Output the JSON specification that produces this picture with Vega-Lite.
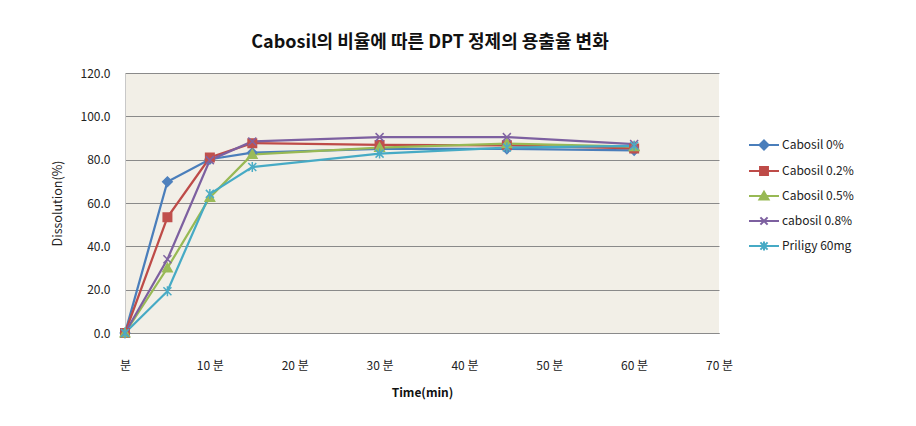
{
  "$schema": "https://vega.github.io/schema/vega-lite/v6.json",
  "width": 594,
  "height": 260,
  "autosize": {"type": "none"},
  "padding": {"left": 125, "top": 73, "right": 197, "bottom": 93},
  "background": "white",
  "config": {
    "font": "Noto Sans CJK KR",
    "view": {"fill": "#F2EFE7", "stroke": null}
  },
  "title": {
    "text": "Cabosil의 비율에 따른 DPT 정제의 용출율 변화",
    "fontSize": 18,
    "fontWeight": "bold",
    "color": "#111111",
    "font": "Noto Sans CJK KR",
    "anchor": "middle",
    "dx": 8,
    "offset": 15
  },
  "data": {
    "values": [
      {"t": 0, "series": "Cabosil 0%", "v": 0.0},
      {"t": 5, "series": "Cabosil 0%", "v": 69.8},
      {"t": 10, "series": "Cabosil 0%", "v": 80.2},
      {"t": 15, "series": "Cabosil 0%", "v": 83.2},
      {"t": 30, "series": "Cabosil 0%", "v": 85.0},
      {"t": 45, "series": "Cabosil 0%", "v": 85.0},
      {"t": 60, "series": "Cabosil 0%", "v": 84.3},
      {"t": 0, "series": "Cabosil 0.2%", "v": 0.0},
      {"t": 5, "series": "Cabosil 0.2%", "v": 53.4},
      {"t": 10, "series": "Cabosil 0.2%", "v": 81.0},
      {"t": 15, "series": "Cabosil 0.2%", "v": 87.6},
      {"t": 30, "series": "Cabosil 0.2%", "v": 86.8},
      {"t": 45, "series": "Cabosil 0.2%", "v": 86.6},
      {"t": 60, "series": "Cabosil 0.2%", "v": 85.2},
      {"t": 0, "series": "Cabosil 0.5%", "v": 0.0},
      {"t": 5, "series": "Cabosil 0.5%", "v": 30.0},
      {"t": 10, "series": "Cabosil 0.5%", "v": 62.6},
      {"t": 15, "series": "Cabosil 0.5%", "v": 82.4},
      {"t": 30, "series": "Cabosil 0.5%", "v": 85.6},
      {"t": 45, "series": "Cabosil 0.5%", "v": 87.4},
      {"t": 60, "series": "Cabosil 0.5%", "v": 86.0},
      {"t": 0, "series": "cabosil 0.8%", "v": 0.0},
      {"t": 5, "series": "cabosil 0.8%", "v": 34.0},
      {"t": 10, "series": "cabosil 0.8%", "v": 79.8},
      {"t": 15, "series": "cabosil 0.8%", "v": 88.4},
      {"t": 30, "series": "cabosil 0.8%", "v": 90.4},
      {"t": 45, "series": "cabosil 0.8%", "v": 90.4},
      {"t": 60, "series": "cabosil 0.8%", "v": 87.2},
      {"t": 0, "series": "Priligy 60mg", "v": 0.0},
      {"t": 5, "series": "Priligy 60mg", "v": 19.3},
      {"t": 10, "series": "Priligy 60mg", "v": 64.2},
      {"t": 15, "series": "Priligy 60mg", "v": 76.6},
      {"t": 30, "series": "Priligy 60mg", "v": 82.8},
      {"t": 45, "series": "Priligy 60mg", "v": 85.6},
      {"t": 60, "series": "Priligy 60mg", "v": 86.4}
    ]
  },
  "encoding": {
    "x": {
      "field": "t",
      "type": "quantitative",
      "scale": {"domain": [0, 70], "nice": false},
      "axis": {
        "title": "Time(min)",
        "values": [0, 10, 20, 30, 40, 50, 60, 70],
        "labelExpr": "datum.value == 0 ? '분' : datum.value + ' 분'",
        "labelFontSize": 12,
        "labelColor": "#222222",
        "labelPadding": 27,
        "ticks": false,
        "grid": false,
        "domainColor": "#8A8A8A",
        "domainWidth": 1.2,
        "titleFontSize": 12,
        "titleFontWeight": "bold",
        "titleColor": "#111111",
        "titlePadding": 16,
        "labelFlush": false
      }
    },
    "y": {
      "field": "v",
      "type": "quantitative",
      "scale": {"domain": [0, 120], "nice": false},
      "axis": {
        "title": "Dissolution(%)",
        "values": [0, 20, 40, 60, 80, 100, 120],
        "format": ".1f",
        "labelFontSize": 12,
        "labelColor": "#222222",
        "labelPadding": 15,
        "ticks": false,
        "grid": true,
        "gridColor": "#8A8A8A",
        "gridWidth": 1.2,
        "domainColor": "#C8C8C8",
        "titleFontSize": 12.5,
        "titleFontWeight": "normal",
        "titleColor": "#222222",
        "titlePadding": 16
      }
    }
  },
  "layer": [
    {
      "mark": {"type": "line", "strokeWidth": 2.25},
      "encoding": {
        "color": {
          "field": "series",
          "type": "nominal",
          "sort": ["Cabosil 0%", "Cabosil 0.2%", "Cabosil 0.5%", "cabosil 0.8%", "Priligy 60mg"],
          "scale": {
            "domain": ["Cabosil 0%", "Cabosil 0.2%", "Cabosil 0.5%", "cabosil 0.8%", "Priligy 60mg"],
            "range": ["#4A7EBB", "#BE4B48", "#98B954", "#7D60A0", "#46AAC5"]
          },
          "legend": {
            "title": null,
            "orient": "none",
            "legendX": 626,
            "legendY": 59,
            "padding": 0,
            "rowPadding": 4,
            "symbolSize": 576,
            "symbolType": "M-1.25,0L1.25,0",
            "labelOffset": 5,
            "labelFontSize": 12,
            "labelColor": "#222222",
            "encode": {
              "symbols": {
                "update": {
                  "shape": {"signal": "datum.value == 'Cabosil 0%' ? 'M-1.25,0L1.25,0M0,-0.38L0.38,0L0,0.38L-0.38,0Z' : datum.value == 'Cabosil 0.2%' ? 'M-1.25,0L1.25,0M-0.33,-0.33L0.33,-0.33L0.33,0.33L-0.33,0.33Z' : datum.value == 'Cabosil 0.5%' ? 'M-1.25,0L1.25,0M0,-0.36L0.38,0.3L-0.38,0.3Z' : datum.value == 'cabosil 0.8%' ? 'M-1.25,0L1.25,0M-0.3,-0.3L0.3,0.3M-0.3,0.3L0.3,-0.3' : 'M-1.25,0L1.25,0M-0.3,-0.3L0.3,0.3M-0.3,0.3L0.3,-0.3M0,-0.38L0,0.38'"},
                  "fill": {"signal": "scale('color', datum.value)"},
                  "stroke": {"signal": "scale('color', datum.value)"},
                  "strokeWidth": {"value": 2},
                  "size": {"value": 576},
                  "opacity": {"value": 1},
                  "fillOpacity": {"value": 1}
                }
              }
            }
          }
        }
      }
    },
    {
      "transform": [{"filter": "datum.series == 'Cabosil 0%'"}],
      "mark": {"type": "point", "shape": "M0,-1L1,0L0,1L-1,0Z", "filled": true, "fill": "#4F81BD", "stroke": "#4F81BD", "strokeWidth": 1.5, "size": 90, "opacity": 1}
    },
    {
      "transform": [{"filter": "datum.series == 'Cabosil 0.2%'"}],
      "mark": {"type": "point", "shape": "M-0.85,-0.85L0.85,-0.85L0.85,0.85L-0.85,0.85Z", "filled": true, "fill": "#C0504D", "stroke": "#C0504D", "strokeWidth": 1.5, "size": 100, "opacity": 1}
    },
    {
      "transform": [{"filter": "datum.series == 'Cabosil 0.5%'"}],
      "mark": {"type": "point", "shape": "M0,-1L1,0.8L-1,0.8Z", "filled": true, "fill": "#9BBB59", "stroke": "#9BBB59", "strokeWidth": 1.5, "size": 90, "opacity": 1}
    },
    {
      "transform": [{"filter": "datum.series == 'cabosil 0.8%'"}],
      "mark": {"type": "point", "shape": "M-0.8,-0.8L0.8,0.8M-0.8,0.8L0.8,-0.8", "filled": false, "stroke": "#8064A2", "strokeWidth": 1.5, "size": 100, "opacity": 1}
    },
    {
      "transform": [{"filter": "datum.series == 'Priligy 60mg'"}],
      "mark": {"type": "point", "shape": "M-0.8,-0.8L0.8,0.8M-0.8,0.8L0.8,-0.8M0,-1L0,1", "filled": false, "stroke": "#4BACC6", "strokeWidth": 1.5, "size": 100, "opacity": 1}
    }
  ]
}
